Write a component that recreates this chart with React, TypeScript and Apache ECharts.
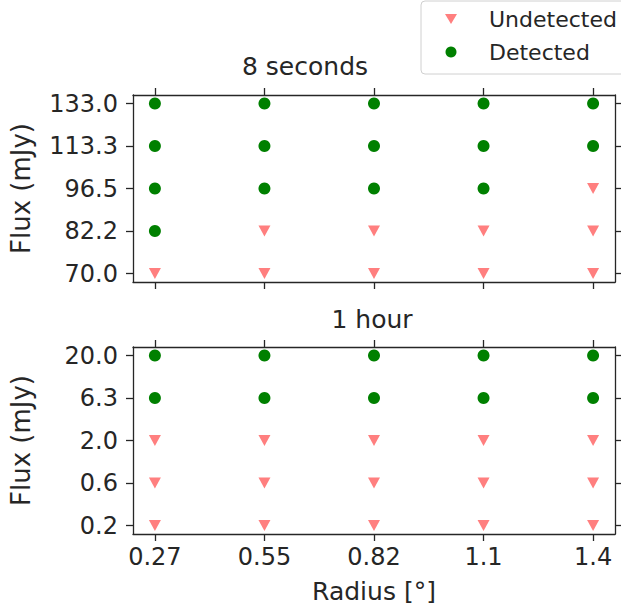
import React, { useEffect, useRef } from "react";
import * as echarts from "echarts";

const radius = ["0.27", "0.55", "0.82", "1.1", "1.4"];
const flux8s = ["70.0", "82.2", "96.5", "113.3", "133.0"];
const flux1h = ["0.2", "0.6", "2.0", "6.3", "20.0"];
// rows follow the flux order (bottom to top), columns follow radius
const detected8s = [
  [0, 0, 0, 0, 0],
  [1, 0, 0, 0, 0],
  [1, 1, 1, 1, 0],
  [1, 1, 1, 1, 1],
  [1, 1, 1, 1, 1],
];
const detected1h = [
  [0, 0, 0, 0, 0],
  [0, 0, 0, 0, 0],
  [0, 0, 0, 0, 0],
  [1, 1, 1, 1, 1],
  [1, 1, 1, 1, 1],
];
const titles = ["8 seconds", "1 hour"];

const FONT = "DejaVu Sans";
const TXT = "#262626";
const LINE = { color: "#262626", width: 1.3 };
const RED = "#ff7f7f";
const GREEN = "#008000";
const IDX = [0, 1, 2, 3, 4];

function points(matrix: number[][], flag: number) {
  const out: number[][] = [];
  matrix.forEach((row, yi) =>
    row.forEach((d, xi) => {
      if (d === flag) out.push([xi, yi]);
    })
  );
  return out;
}

function xAx(gridIndex: number, position: string, labels: boolean, name: string) {
  return {
    type: "value",
    gridIndex,
    position,
    min: -0.2,
    max: 4.2,
    axisLine: { show: true, onZero: false, lineStyle: LINE },
    axisTick: { show: true, customValues: IDX, length: 7, lineStyle: LINE },
    axisLabel: {
      show: labels,
      customValues: IDX,
      formatter: (v: number) => radius[Math.round(v)],
      fontSize: 24,
      fontFamily: FONT,
      color: TXT,
      margin: 11,
    },
    splitLine: { show: false },
    name,
    nameLocation: "middle",
    nameGap: 45,
    nameTextStyle: { fontSize: 25, fontFamily: FONT, color: TXT },
  };
}

function yAx(gridIndex: number, position: string, labels: string[] | null) {
  return {
    type: "value",
    gridIndex,
    position,
    min: -0.2,
    max: 4.2,
    axisLine: { show: true, onZero: false, lineStyle: LINE },
    axisTick: { show: true, customValues: IDX, length: 7, lineStyle: LINE },
    axisLabel: {
      show: !!labels,
      customValues: IDX,
      formatter: (v: number) => (labels ? labels[Math.round(v)] : ""),
      fontSize: 24,
      fontFamily: FONT,
      color: TXT,
      margin: 15,
    },
    splitLine: { show: false },
    name: labels ? "Flux (mJy)" : "",
    nameLocation: "middle",
    nameGap: 99,
    nameTextStyle: { fontSize: 26, fontFamily: FONT, color: TXT },
  };
}

export default function App() {
  const ref = useRef<HTMLDivElement>(null);
  useEffect(() => {
    if (!ref.current) return;
    const chart = echarts.init(ref.current, null, { renderer: "svg" });
    const mats = [detected8s, detected1h];
    const series: any[] = [];
    mats.forEach((m, g) => {
      series.push({
        type: "scatter",
        name: "Undetected",
        xAxisIndex: g * 2,
        yAxisIndex: g * 2,
        symbol: "triangle",
        symbolRotate: 180,
        symbolSize: [12, 11],
        itemStyle: { color: RED, opacity: 1 },
        data: points(m, 0),
      });
      series.push({
        type: "scatter",
        name: "Detected",
        xAxisIndex: g * 2,
        yAxisIndex: g * 2,
        symbol: "circle",
        symbolSize: 12,
        itemStyle: { color: GREEN, opacity: 1 },
        data: points(m, 1),
      });
    });
    chart.setOption({
      animation: false,
      backgroundColor: "#ffffff",
      grid: [
        { left: 128, width: 487, top: 95, height: 187 },
        { left: 128, width: 487, top: 347, height: 187 },
      ],
      xAxis: [
        xAx(0, "bottom", false, ""),
        xAx(0, "top", false, ""),
        xAx(1, "bottom", true, "Radius [°]"),
        xAx(1, "top", false, ""),
      ],
      yAxis: [
        yAx(0, "left", flux8s),
        yAx(0, "right", null),
        yAx(1, "left", flux1h),
        yAx(1, "right", null),
      ],
      legend: {
        left: 421,
        top: 1,
        orient: "vertical",
        data: [
          { name: "Undetected", icon: "path://M0,0 L12,0 L6,10 Z" },
          { name: "Detected", icon: "circle" },
        ],
        itemWidth: 12,
        itemHeight: 11,
        itemGap: 11,
        padding: [7, 30, 11, 24],
        borderColor: "#d0d0d0",
        borderWidth: 1,
        borderRadius: 4,
        backgroundColor: "#ffffff",
        textStyle: { fontSize: 22, fontFamily: FONT, color: TXT, padding: [0, 0, 0, 27] },
      },
      graphic: [
        {
          type: "text",
          x: 305,
          y: 66,
          style: {
            text: titles[0],
            fontSize: 25,
            fontFamily: FONT,
            fill: TXT,
            textAlign: "center",
            textVerticalAlign: "middle",
          },
        },
        {
          type: "text",
          x: 372,
          y: 319,
          style: {
            text: titles[1],
            fontSize: 25,
            fontFamily: FONT,
            fill: TXT,
            textAlign: "center",
            textVerticalAlign: "middle",
          },
        },
      ],
      series,
    });
    return () => chart.dispose();
  }, []);
  return (
    <div
      ref={ref}
      style={{ position: "fixed", left: 0, top: 0, width: 621, height: 612 }}
    />
  );
}
